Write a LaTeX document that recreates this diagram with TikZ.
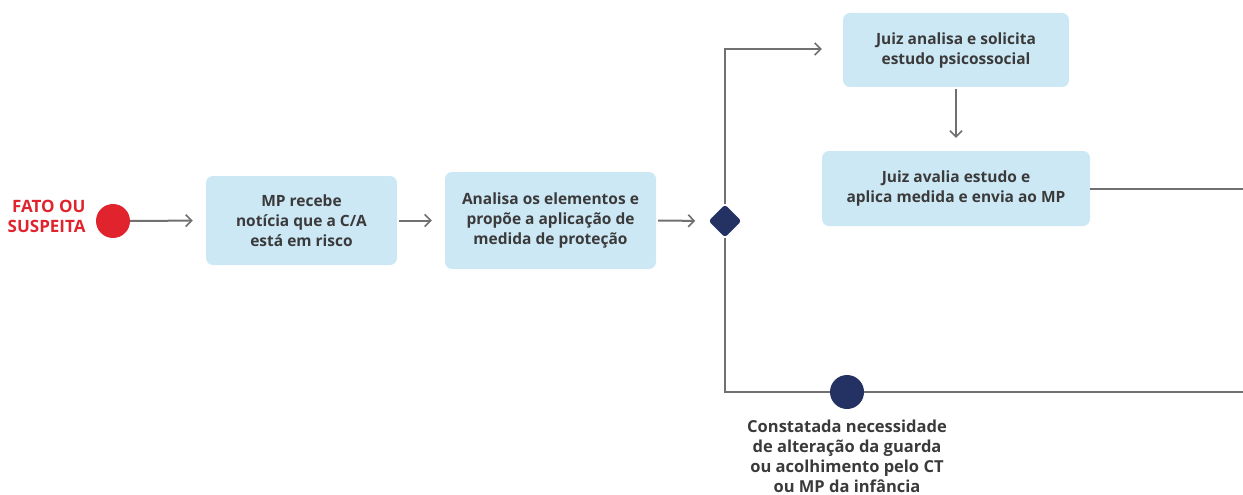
\documentclass[tikz,border=0pt]{standalone}
\usepackage{fontspec}
\setmainfont{Open Sans}
\usetikzlibrary{arrows.meta,calc,shapes.geometric}
\definecolor{boxblue}{HTML}{CDE8F5}
\definecolor{linegray}{HTML}{707070}
\definecolor{navy}{HTML}{233163}
\definecolor{redc}{HTML}{E0232C}
\definecolor{txt}{HTML}{3A3A3A}
\tikzset{
  stepbox/.style={fill=boxblue,rounded corners=7pt,inner sep=0pt,align=center,
    text=txt,font=\bfseries\fontsize{15.5}{20}\selectfont},
  conn/.style={draw=linegray,line width=2pt},
  arr/.style={conn,-{Straight Barb[length=6pt,width=12pt,line width=1.6pt]}},
}
\begin{document}
\begin{tikzpicture}[x=1pt,y=-1pt]
\useasboundingbox (0,0) rectangle (1243,495);
% nodes
\node[circle,fill=redc,minimum size=34pt,inner sep=0pt] (start) at (113,221) {};
\node[anchor=east,align=right,text=redc,font=\bfseries\fontsize{17}{20}\selectfont] (lab) at (89,216) {FATO OU\\SUSPEITA};
\node[stepbox,minimum width=191pt,minimum height=89pt] (b1) at (301.5,220.5) {MP recebe\\notícia que a C/A\\está em risco};
\node[stepbox,minimum width=211pt,minimum height=97pt] (b2) at (550.5,220.5) {Analisa os elementos e\\propõe a aplicação de\\medida de proteção};
\node[stepbox,minimum width=226pt,minimum height=74pt] (b3) at (956,50) {Juiz analisa e solicita\\estudo psicossocial};
\node[stepbox,minimum width=268pt,minimum height=75pt] (b4) at (956,188.5) {Juiz avalia estudo e\\aplica medida e envia ao MP};
\coordinate (e1) at (1243,188.5);
\coordinate (e2) at (1243,392);
\coordinate (dtop) at (725,49);
\coordinate (dbot) at (725,392);
% connectors
\draw[arr,shorten >=13pt] (start.east) -- (b1.west);
\draw[arr,shorten <=2pt,shorten >=13pt] (b1.east) -- (b2.west);
\node[diamond,fill=navy,minimum width=33pt,minimum height=33pt,inner sep=0pt,rounded corners=3pt] (d) at (725,221) {};
\draw[arr,shorten <=2pt,shorten >=13pt] (b2.east) -- (d.west);
\draw[arr,shorten >=21pt] (d.north) -- (dtop) -- (dtop -| b3.west);
\draw[arr,shorten <=2pt,shorten >=13pt] (b3.south) -- (b4.north);
\draw[conn] (b4.east) -- (e1);
\draw[conn] (d.south) -- (dbot) -- (e2);
\node[circle,fill=navy,minimum size=34pt,inner sep=0pt] (c2) at (847,392) {};
\node[anchor=north,align=center,text=txt,font=\bfseries\fontsize{16.5}{20}\selectfont,inner sep=0pt] (lab2) at (847,420) {Constatada necessidade\\de alteração da guarda\\ou acolhimento pelo CT\\ou MP da infância};
\end{tikzpicture}
\end{document}
